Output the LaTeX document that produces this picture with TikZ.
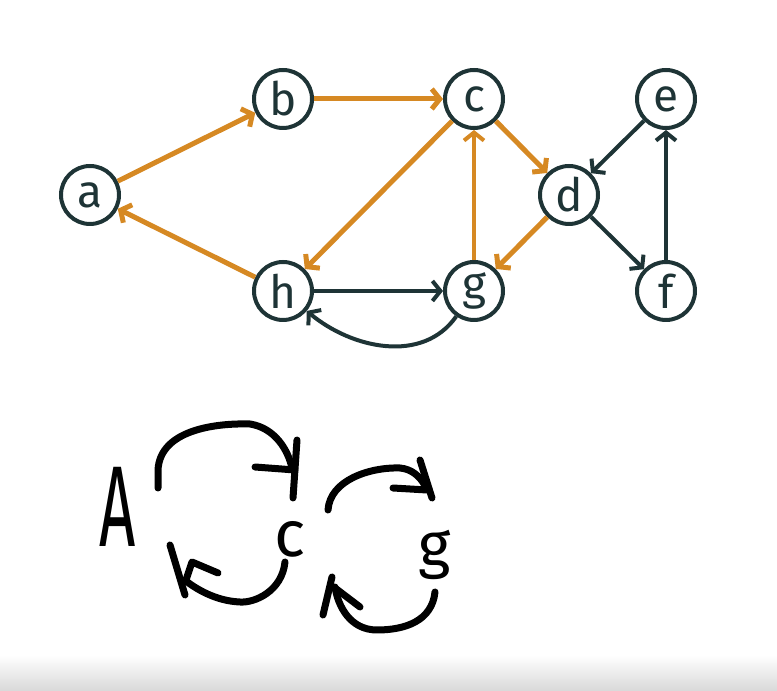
\documentclass[tikz,border=0pt]{standalone}
\usepackage{fontspec}
\setmainfont{Fira Sans}
\usetikzlibrary{arrows.meta}
\definecolor{node edge}{RGB}{30,52,54}
\definecolor{path orange}{RGB}{214,137,35}
\tikzset{vertex/.style={circle, draw=node edge, line width=4pt, minimum size=58pt, inner sep=0pt,
      text=node edge, font=\fontsize{46}{46}\selectfont},
    tree/.style={draw=path orange, line width=5pt, -{Straight Barb[length=8pt,width=20pt]}},
    back/.style={draw=node edge, line width=4pt, -{Straight Barb[length=8pt,width=20pt]}},
    ink/.style={draw=black, line width=7pt, line cap=round, line join=round},
    hand/.style={text=black, inner sep=0pt, anchor=base}}

\begin{document}
\begin{tikzpicture}[x=1pt, y=1pt]
\useasboundingbox (0,0) rectangle (777,691);
\shade [top color=white, bottom color=gray!30] (0,0) rectangle (777,36);
% graph
\node[vertex] (a) at (90,496) {a};
\node[vertex] (b) at (283,592) {b};
\node[vertex] (c) at (474,592) {c};
\node[vertex] (d) at (569,496) {d};
\node[vertex] (e) at (666,592) {e};
\node[vertex] (f) at (666,400) {f};
\node[vertex] (g) at (474,400) {g};
\node[vertex] (h) at (283,400) {h};
\draw[tree] (a) -- (b);
\draw[tree] (b) -- (c);
\draw[tree] (c) -- (h);
\draw[tree] (h) -- (a);
\draw[tree] (c) -- (d);
\draw[tree] (d) -- (g);
\draw[tree, line width=4pt] (g) -- (c);
\draw[back] (h) -- (g);
\draw[back] (g) to[out=-125, in=-40] (h);
\draw[back] (e) -- (d);
\draw[back] (d) -- (f);
\draw[back] (f) -- (e);
% handwritten part
\node[hand, font=\fontsize{115}{115}\selectfont, xscale=0.55] (A) at (118,144) {A};
\node[hand, font=\fontsize{65}{65}\selectfont] (cc) at (290,134) {c};
\node[hand, font=\fontsize{62}{62}\selectfont] (gg) at (435,124) {g};
\draw[ink] (158,203) -- (158,221) .. controls (160,261) and (215,268) .. (250,267)
  .. controls (275,263) and (288,241) .. (292,223);
\draw[ink] (255,224) -- (295,221);
\draw[ink] (297,251) -- (293,193);
\draw[ink] (285,129) .. controls (282,100) and (255,88) .. (240,89)
  .. controls (215,90) and (195,103) .. (186,110);
\draw[ink] (170,146) -- (185,96);
\draw[ink] (186,111) -- (192,129) -- (218,118);
\draw[ink] (328,181) .. controls (330,211) and (370,224) .. (400,223)
  .. controls (412,222) and (420,214) .. (424,207);
\draw[ink] (420,231) -- (432,193);
\draw[ink] (393,203) -- (427,201);
\draw[ink] (435,99) .. controls (432,70) and (405,61) .. (377,61)
  .. controls (350,61) and (338,85) .. (335,104);
\draw[ink] (323,76) -- (332,114);
\draw[ink] (335,103) -- (360,84);
\end{tikzpicture}
\end{document}
